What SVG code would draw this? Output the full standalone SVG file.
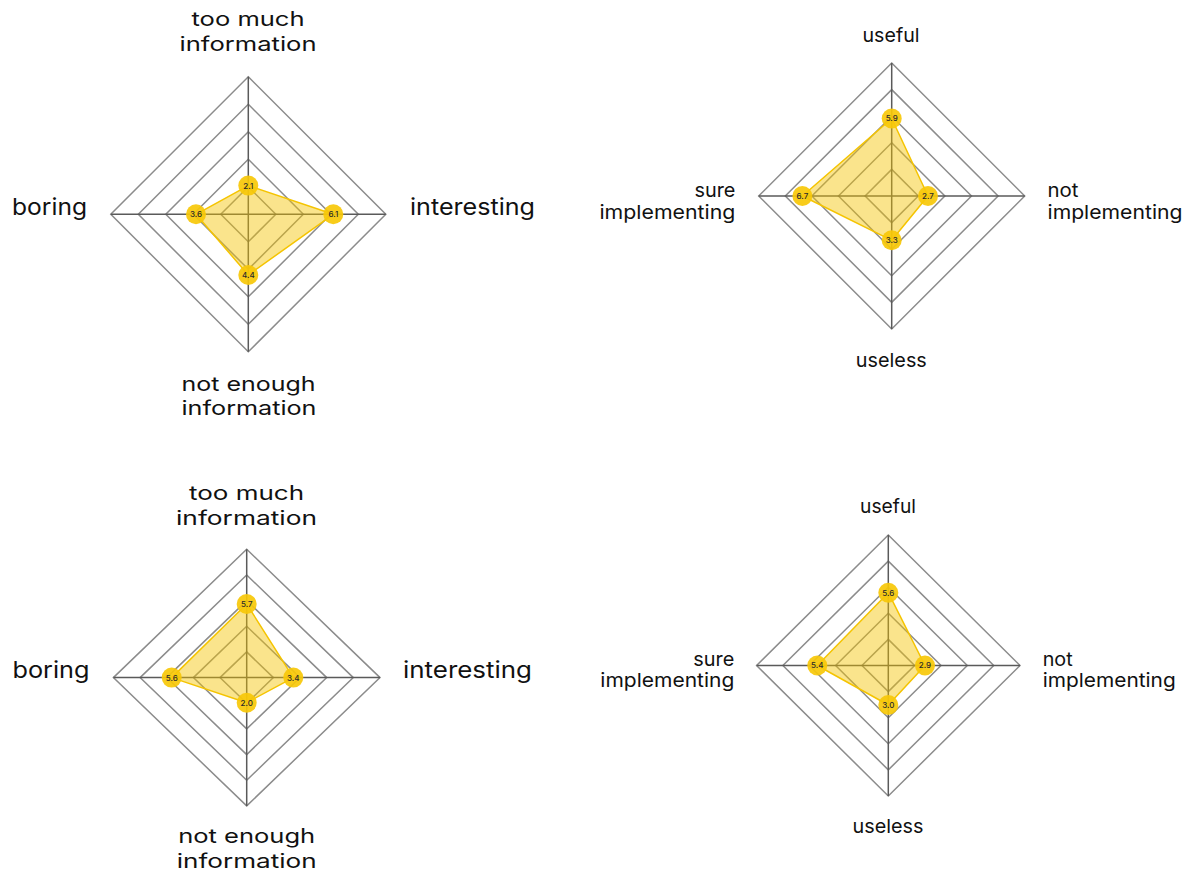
<svg xmlns="http://www.w3.org/2000/svg" width="1193" height="874" viewBox="0 0 1193 874">
<style>
.bg{fill:#ffffff}
.ring{fill:none;stroke:#8c8c8c;stroke-width:1.5}
.axis{stroke:#5a5a5a;stroke-width:1.5}
.area{fill:#f5c400;fill-opacity:0.45;stroke:#f5c400;stroke-width:1.5;stroke-linejoin:round}
.dot{fill:#f7c808;fill-opacity:0.92}
.val{font-family:Inter,"Liberation Sans",sans-serif;font-size:8px;font-weight:500;fill:#2a2a2a;text-anchor:middle}
.lab{font-family:Inter,"Liberation Sans",sans-serif;fill:#111111;font-weight:400}
.big{font-size:23px}
.two{font-size:20px}
.sm{font-size:19px}
.mid{text-anchor:middle}
.end{text-anchor:end}
</style>
<rect class="bg" x="0" y="0" width="1193" height="874"/>

<!-- Chart A: top-left -->
<g id="chart-top-left">
  <g class="grid">
    <polygon class="ring" points="248.3,76.8 385.8,214.3 248.3,351.8 110.8,214.3"/>
    <polygon class="ring" points="248.3,104.3 358.3,214.3 248.3,324.3 138.3,214.3"/>
    <polygon class="ring" points="248.3,131.8 330.8,214.3 248.3,296.8 165.8,214.3"/>
    <polygon class="ring" points="248.3,159.3 303.3,214.3 248.3,269.3 193.3,214.3"/>
    <polygon class="ring" points="248.3,186.8 275.8,214.3 248.3,241.8 220.8,214.3"/>
    <line class="axis" x1="248.3" y1="76.8" x2="248.3" y2="351.8"/>
    <line class="axis" x1="110.8" y1="214.3" x2="385.8" y2="214.3"/>
  </g>
  <polygon class="area" points="248.3,185.6 333.3,214.3 248.3,275 196,214.3"/>
  <circle class="dot" cx="248.3" cy="185.6" r="10"/>
  <circle class="dot" cx="333.3" cy="214.3" r="10"/>
  <circle class="dot" cx="248.3" cy="275" r="10"/>
  <circle class="dot" cx="196" cy="214.3" r="10"/>
  <text class="val" x="248.3" y="188.5">2.1</text>
  <text class="val" x="333.3" y="217.2">6.1</text>
  <text class="val" x="248.3" y="277.9">4.4</text>
  <text class="val" x="196" y="217.2">3.6</text>
  <text class="lab two mid"><tspan x="248" y="26" textLength="113" lengthAdjust="spacingAndGlyphs">too much</tspan><tspan x="248" y="51" textLength="137" lengthAdjust="spacingAndGlyphs">information</tspan></text>
  <text class="lab big" x="12" y="215" textLength="75" lengthAdjust="spacingAndGlyphs">boring</text>
  <text class="lab big" x="410" y="215" textLength="125" lengthAdjust="spacingAndGlyphs">interesting</text>
  <text class="lab two mid"><tspan x="248.5" y="390.7" textLength="134" lengthAdjust="spacingAndGlyphs">not enough</tspan><tspan x="249" y="415" textLength="135" lengthAdjust="spacingAndGlyphs">information</tspan></text>
</g>

<!-- Chart B: top-right -->
<g id="chart-top-right">
  <g class="grid">
    <polygon class="ring" points="891.7,63 1024.7,196 891.7,329 758.7,196"/>
    <polygon class="ring" points="891.7,89.6 998.1,196 891.7,302.4 785.3,196"/>
    <polygon class="ring" points="891.7,116.2 971.5,196 891.7,275.8 811.9,196"/>
    <polygon class="ring" points="891.7,142.8 944.9,196 891.7,249.2 838.5,196"/>
    <polygon class="ring" points="891.7,169.4 918.3,196 891.7,222.6 865.1,196"/>
    <line class="axis" x1="891.7" y1="63" x2="891.7" y2="329"/>
    <line class="axis" x1="758.7" y1="196" x2="1024.7" y2="196"/>
  </g>
  <polygon class="area" points="891.7,118.5 928,196 891.7,240.3 802.4,196"/>
  <circle class="dot" cx="891.7" cy="118.5" r="10"/>
  <circle class="dot" cx="928" cy="196" r="10"/>
  <circle class="dot" cx="891.7" cy="240.3" r="10"/>
  <circle class="dot" cx="802.4" cy="196" r="10"/>
  <text class="val" x="891.7" y="121.4">5.9</text>
  <text class="val" x="928" y="198.9">2.7</text>
  <text class="val" x="891.7" y="243.2">3.3</text>
  <text class="val" x="802.4" y="198.9">6.7</text>
  <text class="lab sm mid" x="891" y="41.5" textLength="57" lengthAdjust="spacingAndGlyphs">useful</text>
  <text class="lab sm end"><tspan x="735.4" y="196.7" textLength="41" lengthAdjust="spacingAndGlyphs">sure</tspan><tspan x="735.4" y="219.3" textLength="136" lengthAdjust="spacingAndGlyphs">implementing</tspan></text>
  <text class="lab sm"><tspan x="1047.5" y="196.7" textLength="31" lengthAdjust="spacingAndGlyphs">not</tspan><tspan x="1047.5" y="219.3" textLength="135" lengthAdjust="spacingAndGlyphs">implementing</tspan></text>
  <text class="lab sm mid" x="891.3" y="366.7" textLength="71" lengthAdjust="spacingAndGlyphs">useless</text>
</g>

<!-- Chart C: bottom-left -->
<g id="chart-bottom-left">
  <g class="grid">
    <polygon class="ring" points="246.7,549.3 380,677.6 246.7,805.9 113.4,677.6"/>
    <polygon class="ring" points="246.7,575 353.3,677.6 246.7,780.2 140.1,677.6"/>
    <polygon class="ring" points="246.7,600.6 326.7,677.6 246.7,754.6 166.7,677.6"/>
    <polygon class="ring" points="246.7,626.3 300,677.6 246.7,728.9 193.4,677.6"/>
    <polygon class="ring" points="246.7,651.9 273.4,677.6 246.7,703.3 220,677.6"/>
    <line class="axis" x1="246.7" y1="549.3" x2="246.7" y2="805.9"/>
    <line class="axis" x1="113.4" y1="677.6" x2="380" y2="677.6"/>
  </g>
  <polygon class="area" points="246.7,604 293.3,677.6 246.7,702.7 171.7,677.6"/>
  <circle class="dot" cx="246.7" cy="604" r="10"/>
  <circle class="dot" cx="293.3" cy="677.6" r="10"/>
  <circle class="dot" cx="246.7" cy="702.7" r="10"/>
  <circle class="dot" cx="171.7" cy="677.6" r="10"/>
  <text class="val" x="246.7" y="606.9">5.7</text>
  <text class="val" x="293.3" y="680.5">3.4</text>
  <text class="val" x="246.7" y="705.6">2.0</text>
  <text class="val" x="171.7" y="680.5">5.6</text>
  <text class="lab two mid"><tspan x="246.5" y="500" textLength="115" lengthAdjust="spacingAndGlyphs">too much</tspan><tspan x="246.5" y="524.5" textLength="141" lengthAdjust="spacingAndGlyphs">information</tspan></text>
  <text class="lab big" x="12.5" y="677.5" textLength="77" lengthAdjust="spacingAndGlyphs">boring</text>
  <text class="lab big" x="403" y="677.5" textLength="129" lengthAdjust="spacingAndGlyphs">interesting</text>
  <text class="lab two mid"><tspan x="246.7" y="843" textLength="137" lengthAdjust="spacingAndGlyphs">not enough</tspan><tspan x="246.7" y="867.5" textLength="140" lengthAdjust="spacingAndGlyphs">information</tspan></text>
</g>

<!-- Chart D: bottom-right -->
<g id="chart-bottom-right">
  <g class="grid">
    <polygon class="ring" points="888.3,535 1020,665.5 888.3,796 756.6,665.5"/>
    <polygon class="ring" points="888.3,561.1 993.7,665.5 888.3,769.9 782.9,665.5"/>
    <polygon class="ring" points="888.3,587.2 967.3,665.5 888.3,743.8 809.3,665.5"/>
    <polygon class="ring" points="888.3,613.3 941,665.5 888.3,717.7 835.6,665.5"/>
    <polygon class="ring" points="888.3,639.4 914.6,665.5 888.3,691.6 862,665.5"/>
    <line class="axis" x1="888.3" y1="535" x2="888.3" y2="796"/>
    <line class="axis" x1="756.6" y1="665.5" x2="1020" y2="665.5"/>
  </g>
  <polygon class="area" points="888.3,592.7 925,665.5 888.3,705 817.3,665.5"/>
  <circle class="dot" cx="888.3" cy="592.7" r="10"/>
  <circle class="dot" cx="925" cy="665.5" r="10"/>
  <circle class="dot" cx="888.3" cy="705" r="10"/>
  <circle class="dot" cx="817.3" cy="665.5" r="10"/>
  <text class="val" x="888.3" y="595.6">5.6</text>
  <text class="val" x="925" y="668.4">2.9</text>
  <text class="val" x="888.3" y="707.9">3.0</text>
  <text class="val" x="817.3" y="668.4">5.4</text>
  <text class="lab sm mid" x="888" y="513.3" textLength="56" lengthAdjust="spacingAndGlyphs">useful</text>
  <text class="lab sm end"><tspan x="734.3" y="666" textLength="41" lengthAdjust="spacingAndGlyphs">sure</tspan><tspan x="734.3" y="686.7" textLength="134" lengthAdjust="spacingAndGlyphs">implementing</tspan></text>
  <text class="lab sm"><tspan x="1042.7" y="665.7" textLength="30" lengthAdjust="spacingAndGlyphs">not</tspan><tspan x="1042.7" y="686.7" textLength="133" lengthAdjust="spacingAndGlyphs">implementing</tspan></text>
  <text class="lab sm mid" x="888" y="832.5" textLength="71" lengthAdjust="spacingAndGlyphs">useless</text>
</g>
</svg>
